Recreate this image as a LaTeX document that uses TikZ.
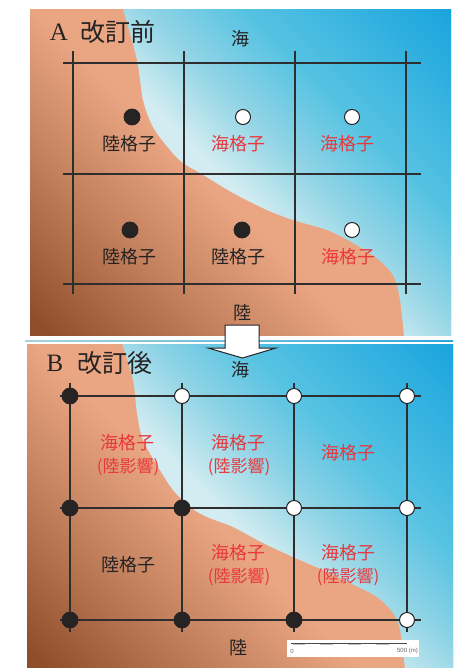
\documentclass[tikz,border=0pt]{standalone}
\usepackage{fontspec}
\setmainfont{Liberation Serif}
\newfontfamily\jp{Noto Sans CJK JP}
\newfontfamily\scalefont{Liberation Sans}
\definecolor{landDark}{HTML}{8F4E2A}
\definecolor{landMid}{HTML}{C5825E}
\definecolor{landLight}{HTML}{EAA682}
\definecolor{seaLight}{HTML}{D2ECF1}
\definecolor{seaMid}{HTML}{8DD3E5}
\definecolor{seaBlue}{HTML}{55C2E2}
\definecolor{seaDeep}{HTML}{1BA5DE}
\definecolor{ink}{HTML}{262324}
\definecolor{seaRed}{HTML}{E8383D}
\definecolor{gridcol}{HTML}{2E2E2E}
\definecolor{sepLight}{HTML}{A8D3DD}
\definecolor{sepDeep}{HTML}{2BA7DB}
\pgfdeclareverticalshading{landshade}{100bp}{color(0bp)=(landDark); color(16bp)=(landDark); color(33bp)=(landMid); color(46bp)=(landLight); color(100bp)=(landLight)}
\pgfdeclareverticalshading{seashade}{100bp}{color(0bp)=(seaLight); color(48bp)=(seaLight); color(57bp)=(seaMid); color(66bp)=(seaBlue); color(85bp)=(seaDeep); color(100bp)=(seaDeep)}
\tikzset{
  gridline/.style={draw=gridcol, line width=1.15pt},
  landpt/.style={circle, fill=ink, draw=ink, minimum size=16pt, inner sep=0pt, line width=0.8pt},
  seapt/.style={circle, fill=white, draw=ink, minimum size=15pt, inner sep=0pt, line width=1pt},
  lbl/.style={font=\jp\fontsize{18}{20}\selectfont, inner sep=0pt},
  landlbl/.style={lbl, text=ink},
  sealbl/.style={lbl, text=seaRed},
  effect/.style={font=\jp\fontsize{17}{19}\selectfont, inner sep=0pt, text=seaRed},
  place/.style={lbl, text=ink},
  letter/.style={font=\fontsize{25}{27}\selectfont, inner sep=0pt, text=ink},
  heading/.style={font=\jp\fontsize{25}{27}\selectfont, inner sep=0pt, text=ink},
  landfill/.style={shading=landshade, shading angle=-45},
  seafill/.style={shading=seashade, shading angle=-45},
  scaletext/.style={font=\scalefont\fontsize{6}{7}\selectfont, text=gray!80!black, inner sep=0pt},
}
\begin{document}
\begin{tikzpicture}[x=1pt, y=-1pt]
\useasboundingbox (0,0) rectangle (458,668);
\fill[white] (0,0) rectangle (458,668);

% ---------- panel A: background ----------
\shade[landfill] (30,10) rectangle (451,335);
\begin{scope}
  \clip plot[smooth, tension=0.5] coordinates {(123,9) (137,60) (143,100) (153,127) (170,150) (183,163) (200,173) (233,193) (267,210) (293,220) (327,230) (353,243) (379,260) (394,277) (400,300) (404,336)} -- (452,336) -- (452,9) -- cycle;
  \shade[seafill] (30,10) rectangle (451,335);
\end{scope}

% ---------- panel A: grid ----------
\foreach \y [count=\i] in {63,174,284} {
  \coordinate (aH\i w) at (63,\y);
  \coordinate (aH\i e) at (421,\y);
  \draw[gridline] (aH\i w) -- (aH\i e);
}
\foreach \x [count=\i] in {73,184,295,406} {
  \coordinate (aV\i n) at (\x,51);
  \coordinate (aV\i s) at (\x,294);
  \draw[gridline] (aV\i n) -- (aV\i s);
}

\node[letter] (titleA) at (59,32) {A};
\node[heading] (titleAjp) at (118,32) {改訂前};
\node[place] (seaA) at (240,39) {海};
\node[place] (landA) at (242,313) {陸};

\node[landpt] (a11) at (132,117) {};
\node[seapt]  (a12) at (243,117) {};
\node[seapt]  (a13) at (352,117) {};
\node[landpt] (a21) at (130,230) {};
\node[landpt] (a22) at (242,230) {};
\node[seapt]  (a23) at (352,230) {};

\node[landlbl] (la11) at (129,144) {陸格子};
\node[sealbl]  (la12) at (238,144) {海格子};
\node[sealbl]  (la13) at (347,144) {海格子};
\node[landlbl] (la21) at (129,257) {陸格子};
\node[landlbl] (la22) at (238,257) {陸格子};
\node[sealbl]  (la23) at (348,257) {海格子};

% ---------- separator ----------
\shade[left color=sepLight, right color=sepDeep] (25,340.2) rectangle (453,341.8);

% ---------- panel B: background ----------
\shade[landfill] (27,344) rectangle (453,668);
\begin{scope}
  \clip plot[smooth, tension=0.5] coordinates {(122,343) (133,380) (137,413) (143,440) (160,470) (173,490) (190,507) (207,517) (233,527) (263,543) (293,557) (323,570) (350,583) (377,597) (393,613) (400,630) (405,669)} -- (454,669) -- (454,343) -- cycle;
  \shade[seafill] (27,344) rectangle (453,668);
\end{scope}

% ---------- panel B: grid ----------
\foreach \y [count=\i] in {396,508,620} {
  \coordinate (bH\i w) at (60,\y);
  \coordinate (bH\i e) at (421,\y);
  \draw[gridline] (bH\i w) -- (bH\i e);
}
\foreach \x [count=\i] in {70,182,294,407} {
  \coordinate (bV\i n) at (\x,383);
  \coordinate (bV\i s) at (\x,632);
  \draw[gridline] (bV\i n) -- (bV\i s);
}

\node[letter] (titleB) at (55,363) {B};
\node[heading] (titleBjp) at (115,363) {改訂後};
\node[place] (seaB) at (240,370) {海};
\node[place] (landB) at (238,648) {陸};

\node[landpt] (b11) at (70,396) {};
\node[seapt]  (b12) at (182,396) {};
\node[seapt]  (b13) at (294,396) {};
\node[seapt]  (b14) at (407,396) {};
\node[landpt] (b21) at (70,508) {};
\node[landpt] (b22) at (182,508) {};
\node[seapt]  (b23) at (294,508) {};
\node[seapt]  (b24) at (407,508) {};
\node[landpt] (b31) at (70,620) {};
\node[landpt] (b32) at (182,620) {};
\node[landpt] (b33) at (294,620) {};
\node[seapt]  (b34) at (407,620) {};

\node[sealbl] (lb11) at (127,443) {海格子};
\node[effect] (eb11) at (128,467) {(陸影響)};
\node[sealbl] (lb12) at (238,443) {海格子};
\node[effect] (eb12) at (239,467) {(陸影響)};
\node[sealbl] (lb13) at (348,453) {海格子};
\node[landlbl] (lb21) at (128,565) {陸格子};
\node[sealbl] (lb22) at (238,553) {海格子};
\node[effect] (eb22) at (239,577) {(陸影響)};
\node[sealbl] (lb23) at (348,553) {海格子};
\node[effect] (eb23) at (348,577) {(陸影響)};

% ---------- scale bar ----------
\node[fill=white, minimum width=132pt, minimum height=17pt, inner sep=0pt] (scalebox) at (353,648.5) {};
\coordinate (bar0) at (291,643);
\coordinate (bar1) at (407,643);
\draw[gray!60!black, line width=0.9pt] (bar0) -- (bar1);
\foreach \s/\e in {293/305, 320/333, 348/361, 376/389} {
  \draw[gray!50, line width=0.5pt] (\s,644.3) -- (\e,644.3);
}
\node[scaletext] (zero) at (292,651) {0};
\node[scaletext, anchor=east] (fivehundred) at (418,651) {500 (m)};

% ---------- arrow between panels ----------
\draw[fill=white, draw=ink, line width=1pt, line join=miter]
  (225,325) -- (259,325) -- (259,348) -- (276,348) -- (242.5,358) -- (208,348) -- (225,348) -- cycle;
\end{tikzpicture}
\end{document}
